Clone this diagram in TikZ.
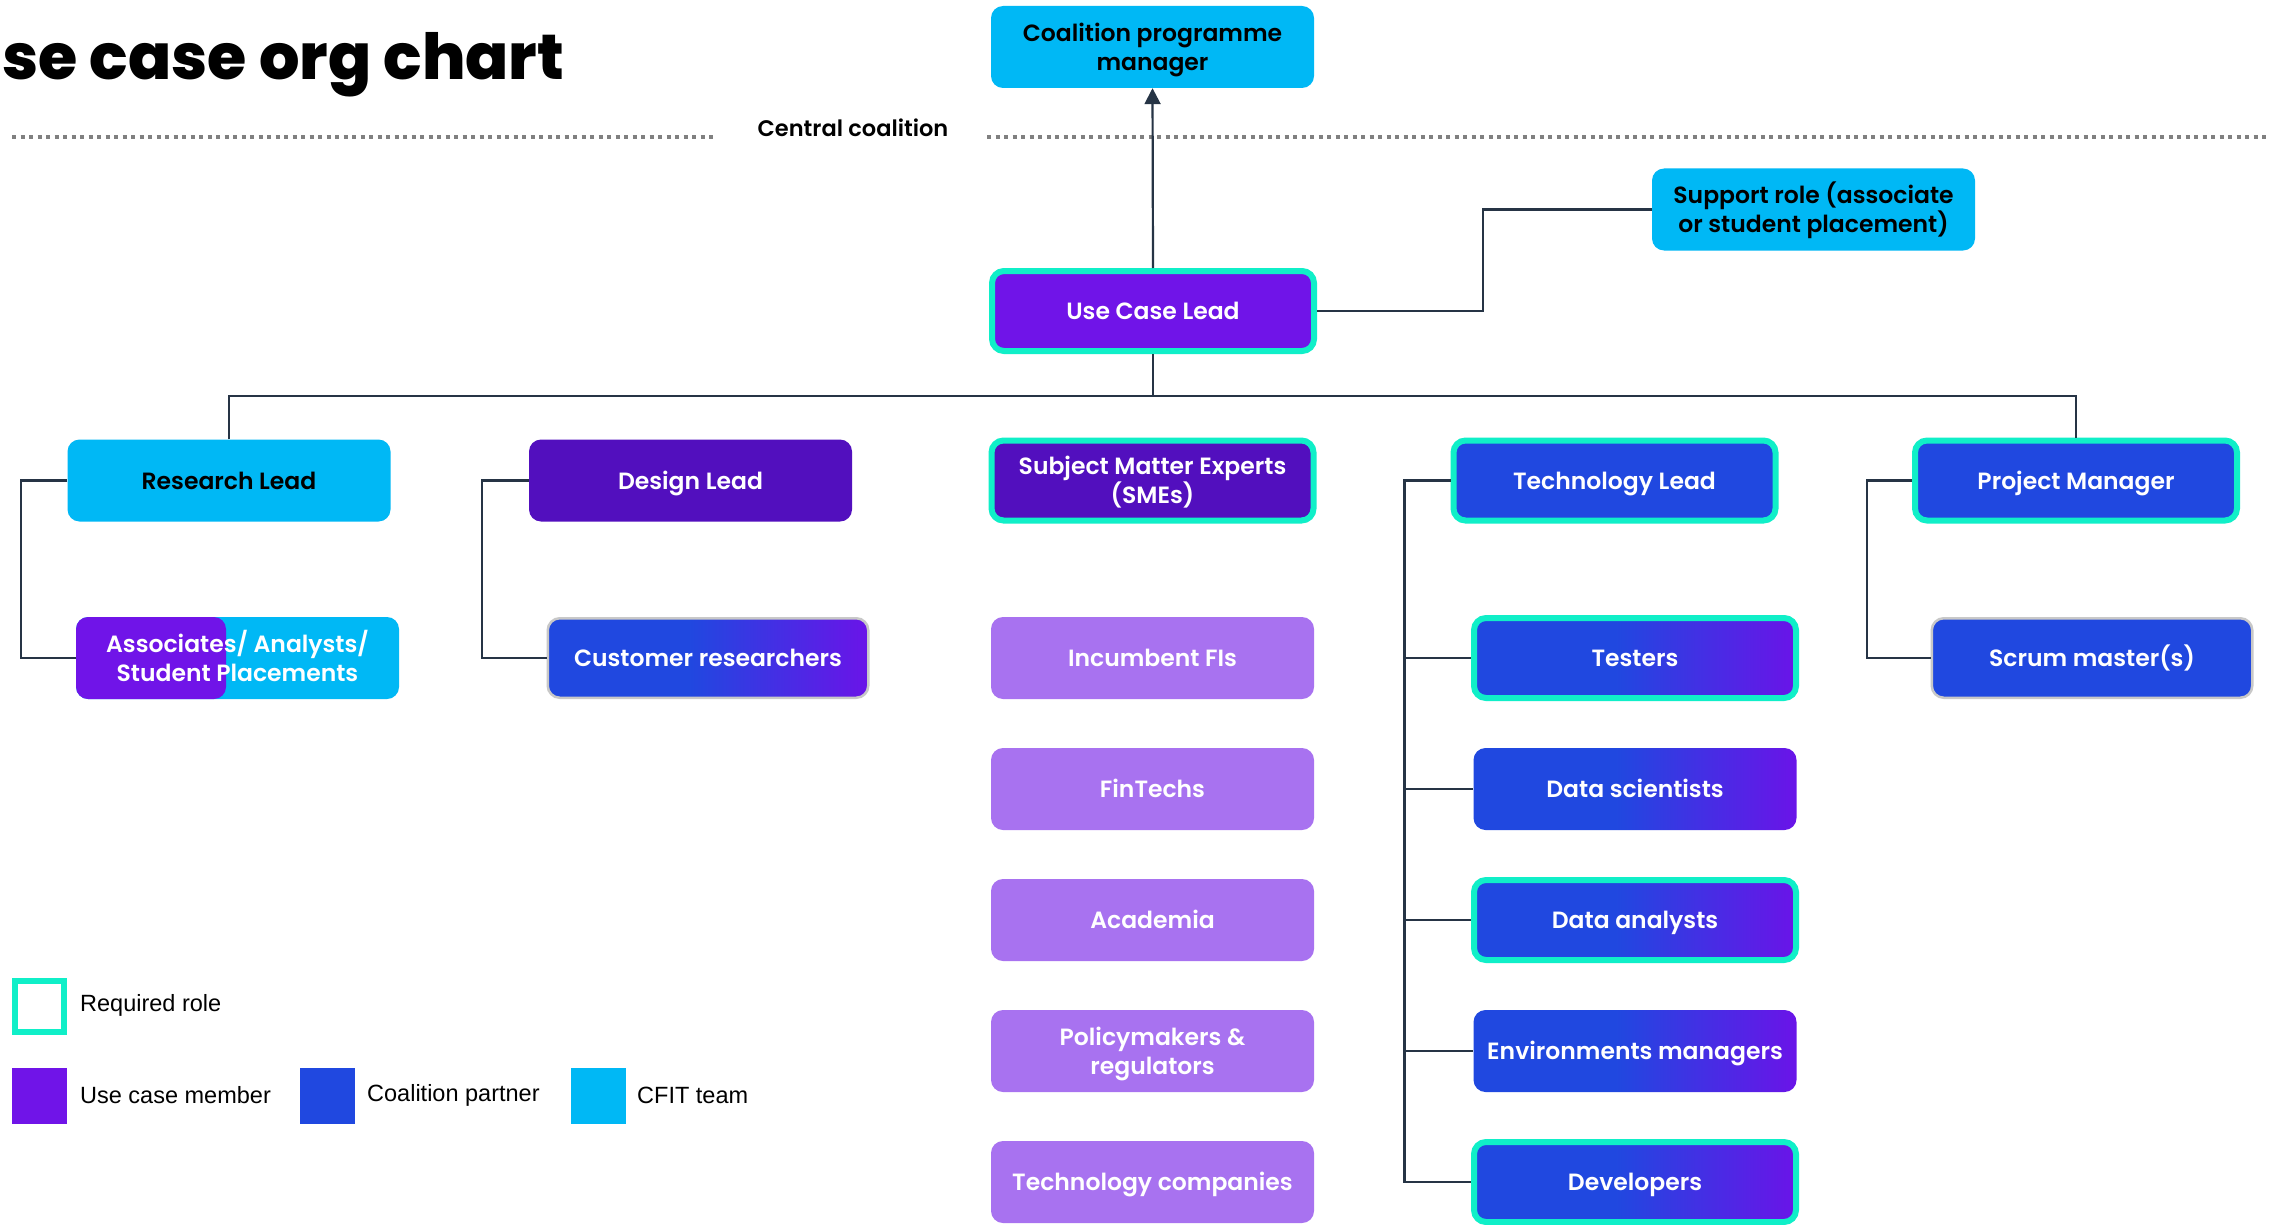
\documentclass[tikz,border=0pt]{standalone}
\usepackage{fontspec}
\setmainfont{Poppins}
\newfontfamily\sbfont{Poppins SemiBold}
\newfontfamily\xbfont{Poppins ExtraBold}
\newfontfamily\legfont{Liberation Sans}
\usetikzlibrary{arrows.meta,calc}
\definecolor{cyanT}{HTML}{00B8F5}
\definecolor{ucp}{HTML}{7014E8}
\definecolor{dpur}{HTML}{520FBE}
\definecolor{cblue}{HTML}{2048E0}
\definecolor{lpur}{HTML}{A872F0}
\definecolor{reqteal}{HTML}{10EFC8}
\definecolor{gpur}{HTML}{6A14E8}
\definecolor{linec}{HTML}{263445}
\definecolor{dotc}{HTML}{808080}
\definecolor{greyb}{HTML}{C8C8C8}
\pgfdeclarehorizontalshading{bpgrad}{100bp}{color(0bp)=(cblue); color(25bp)=(cblue); color(47bp)=(cblue); color(75bp)=(gpur); color(100bp)=(gpur)}
\tikzset{
  box/.style={rounded corners=12pt, minimum width=323pt, minimum height=82pt, inner sep=0pt,
    align=center, font=\sbfont\fontsize{23.5}{29}\selectfont, text=white,
    text height=17.4pt, text depth=0pt},
  two/.style={text height=46.4pt, text depth=0pt},
  req/.style={draw=reqteal, line width=6pt, minimum width=322pt, minimum height=80pt},
  greyedge/.style={draw=greyb, line width=2.5pt, minimum width=320.5pt, minimum height=79.5pt},
  cfit/.style={box, fill=cyanT, text=black},
  member/.style={box, fill=ucp},
  dark/.style={box, fill=dpur},
  partner/.style={box, fill=cblue},
  light/.style={box, fill=lpur},
  grad/.style={box, shade, shading=bpgrad},
  conn/.style={draw=linec, line width=2.2pt},
  dotline/.style={draw=dotc, line width=3.5pt, dash pattern=on 4pt off 4.5pt},
  legsq/.style={minimum width=55pt, minimum height=56pt, inner sep=0pt},
  legtxt/.style={anchor=west, inner sep=0pt, font=\legfont\fontsize{23.5}{28}\selectfont}
}
\begin{document}
\begin{tikzpicture}[x=1pt,y=-1pt]
\useasboundingbox (0,0) rectangle (2282,1225);
\clip (0,0) rectangle (2282,1225);
\fill[white] (0,0) rectangle (2282,1225);

% title
\node[anchor=base west, inner sep=0pt, font=\xbfont\fontsize{63.6}{70}\selectfont] (title) at (-43,80) {Use case org chart};

% central coalition separator
\draw[dotline] (12,137) -- (717,137);
\draw[dotline] (987,137) -- (2268,137);
\node[inner sep=0pt, font=\sbfont\fontsize{22.5}{26}\selectfont] (cc) at (853,128) {Central coalition};

% top
\node[cfit, two] (cpm) at (1152.5,47) {Coalition programme\\manager};
\node[member, req] (ucl) at (1153,311) {Use Case Lead};
\node[cfit, two] (sup) at (1813.5,209.5) {Support role (associate\\or student placement)};

% row 2
\node[cfit] (rl) at (229,480.5) {Research Lead};
\node[dark] (dl) at (690.5,480.5) {Design Lead};
\node[dark, req, two] (sme) at (1152.5,480.5) {Subject Matter Experts\\(SMEs)};
\node[partner, req] (tl) at (1614.5,480.5) {Technology Lead};
\node[partner, req] (pm) at (2076,480.5) {Project Manager};

% row 3 and below
\node[box, two, fill=cyanT, path picture={\fill[ucp] (path picture bounding box.south west) rectangle ($(path picture bounding box.north west)+(150,0)$);}] (asc) at (237.5,658) {Associates/ Analysts/\\Student Placements};
\node[grad, greyedge] (cr) at (708,658) {Customer researchers};
\node[partner, greyedge] (scm) at (2092,658) {Scrum master(s)};

\node[light] (ifi) at (1152.5,658) {Incumbent FIs};
\node[light] (fin) at (1152.5,789) {FinTechs};
\node[light] (aca) at (1152.5,920) {Academia};
\node[light, two] (pol) at (1152.5,1051) {Policymakers \&\\regulators};
\node[light] (tco) at (1152.5,1182) {Technology companies};

\node[grad, req] (tst) at (1635,658) {Testers};
\node[grad] (dsc) at (1635,789) {Data scientists};
\node[grad, req] (dan) at (1635,920) {Data analysts};
\node[grad] (env) at (1635,1051) {Environments managers};
\node[grad, req] (dev) at (1635,1182) {Developers};

% connectors
\draw[conn, -{Triangle[width=16pt,length=16pt]}] (ucl.north) -- (cpm.south);
\draw[conn] (ucl.east) -- (1483,311) |- (sup.west);
\coordinate (bus) at (1153,396);
\draw[conn] (ucl.south) -- (bus);
\draw[conn] (rl.north) -- (rl.north |- bus) -- (pm.north |- bus) -- (pm.north);
\draw[conn] (rl.west) -- ++(-46,0) |- (asc.west);
\draw[conn] (dl.west) -- ++(-47,0) |- (cr.west);
\draw[conn] (pm.west) -- ++(-45,0) |- (scm.west);
\draw[conn] (tl.west) -- ++(-46,0) |- (dev.west);
\foreach \c in {tst,dsc,dan,env}{
  \draw[conn] (tl.west) ++(-46,0) |- (\c.west);
}

% legend
\node[legsq, draw=reqteal, line width=6pt, minimum width=49pt, minimum height=51pt] (lreq) at (39.5,1006.5) {};
\node[legtxt] (lreqt) at (80,1005) {Required role};
\node[legsq, fill=ucp] (lucm) at (39.5,1096) {};
\node[legtxt] (lucmt) at (80,1095) {Use case member};
\node[legsq, fill=cblue] (lcp) at (327.5,1096) {};
\node[legtxt] (lcpt) at (367,1095) {Coalition partner};
\node[legsq, fill=cyanT] (lcf) at (598,1096) {};
\node[legtxt] (lcft) at (637,1095) {CFIT team};
\end{tikzpicture}
\end{document}
